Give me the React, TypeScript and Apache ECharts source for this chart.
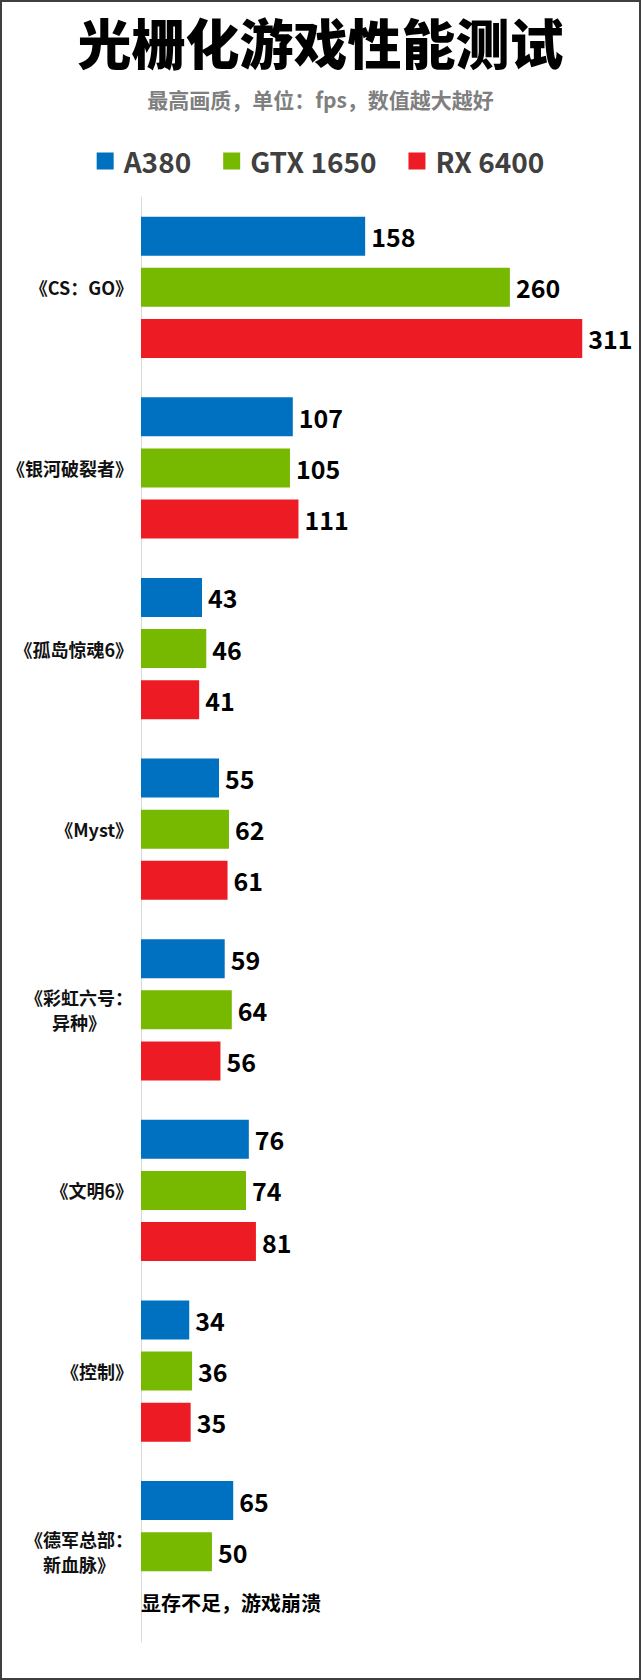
import { useEffect, useRef } from "react";
import * as echarts from "echarts";

const TITLE = "光栅化游戏性能测试";
const SUBTITLE = "最高画质，单位：fps，数值越大越好";

const GAMES = [
  "《CS：GO》",
  "《银河破裂者》",
  "《孤岛惊魂6》",
  "《Myst》",
  "《彩虹六号：\n异种》",
  "《文明6》",
  "《控制》",
  "《德军总部：\n新血脉》",
];

const SERIES_NAMES = ["A380", "GTX 1650", "RX 6400"];
const A380 = [158, 107, 43, 55, 59, 76, 34, 65];
const GTX1650 = [260, 105, 46, 62, 64, 74, 36, 50];
// null = no result
const RX6400 = [311, 111, 41, 61, 56, 81, 35, null];
const CRASH_NOTE = "显存不足，游戏崩溃";

const COLORS = ["#0070c0", "#76b900", "#ed1c24"];
const FONT = "'Noto Sans CJK SC', 'Noto Sans', sans-serif";

export default function App() {
  const chartRef = useRef<HTMLDivElement>(null);

  useEffect(() => {
    document.body.style.margin = "0";
    if (!chartRef.current) return;
    const chart = echarts.init(chartRef.current, undefined, { renderer: "svg" });

    const valueLabel = {
      show: true,
      position: "right" as const,
      distance: 6,
      fontSize: 25,
      fontWeight: "bold" as const,
      color: "#000",
      fontFamily: FONT,
    };

    const toData = (vals: (number | null)[]) =>
      vals.map((v) =>
        v === null
          ? {
              value: 0,
              label: {
                show: true,
                position: "right",
                distance: 0,
                formatter: CRASH_NOTE,
                fontSize: 20,
                fontWeight: "bold",
                color: "#000",
                fontFamily: FONT,
              },
            }
          : v
      );

    const allValues = [A380, GTX1650, RX6400];

    const option: echarts.EChartsOption = {
      animation: false,
      backgroundColor: "#fff",
      title: [
        {
          text: TITLE,
          left: "center",
          top: 9,
          textStyle: { fontSize: 54, fontWeight: 900, color: "#000", fontFamily: FONT },
        },
        {
          text: SUBTITLE,
          left: "center",
          top: 83,
          textStyle: { fontSize: 21, fontWeight: "bold", color: "#7f7f7f", fontFamily: FONT },
        },
      ],
      legend: {
        data: SERIES_NAMES,
        top: 142,
        left: "center",
        icon: "rect",
        itemWidth: 17,
        itemHeight: 17,
        itemGap: 32,
        textStyle: { fontSize: 28, fontWeight: "bold", color: "#404040", fontFamily: FONT, padding: [0, 0, 0, 5] },
      },
      grid: { left: 141, right: 46, top: 197, bottom: 38, containLabel: false },
      xAxis: { type: "value", min: 0, max: 320, show: false },
      yAxis: {
        type: "category",
        data: GAMES,
        inverse: true,
        axisLine: { lineStyle: { color: "#d9d9d9", width: 1 } },
        axisTick: { show: false },
        axisLabel: {
          margin: 8,
          formatter: (v: string) => v.split("\n").map((l) => `{c|${l}}`).join("\n"),
          rich: {
            c: { align: "center", fontSize: 18, fontWeight: "bold", color: "#111", lineHeight: 25, fontFamily: FONT },
          },
        },
      },
      series: SERIES_NAMES.map((name, i) => ({
        name,
        type: "bar",
        barWidth: 39,
        barGap: "31%",
        itemStyle: { color: COLORS[i] },
        label: valueLabel,
        data: toData(allValues[i]),
      })) as echarts.SeriesOption[],
    };

    chart.setOption(option);
    return () => chart.dispose();
  }, []);

  return (
    <div style={{ position: "relative", width: 641, height: 1680, background: "#fff" }}>
      <div ref={chartRef} style={{ width: 641, height: 1680 }} />
      <div
        style={{
          position: "absolute",
          inset: 0,
          border: "2px solid #3f3f3f",
          boxSizing: "border-box",
          pointerEvents: "none",
        }}
      />
    </div>
  );
}
